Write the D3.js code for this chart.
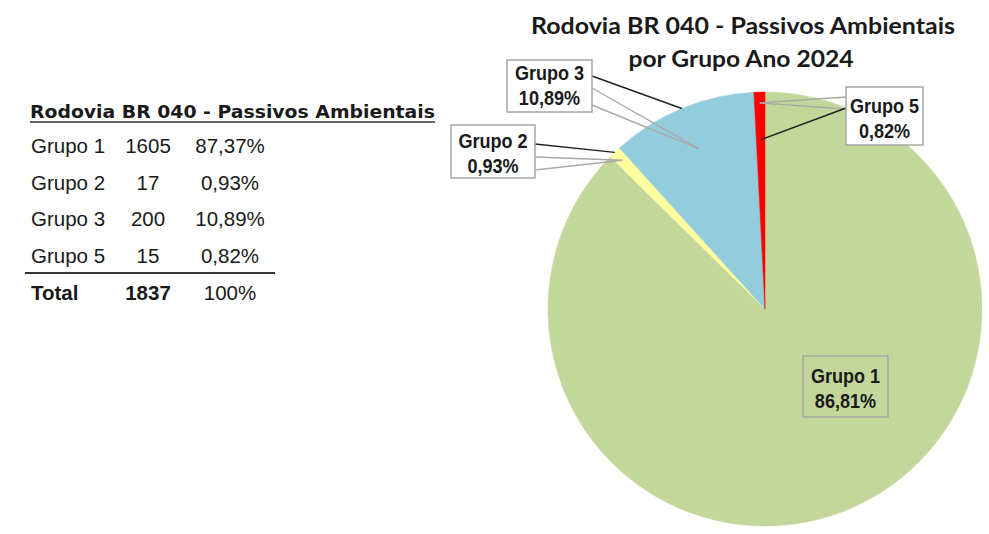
<!DOCTYPE html>
<html>
<head>
<meta charset="utf-8">
<script src="https://cdn.jsdelivr.net/npm/d3@7"></script>
<style>
  html, body { margin: 0; padding: 0; background: #fff; }
  svg { display: block; }
</style>
</head>
<body>
<div id="chart"></div>
<script>
// ─── data ─────────────────────────────────────────────────────────
const grupos       = ["Grupo 1", "Grupo 2", "Grupo 3", "Grupo 5"];
const passivos     = [1605, 17, 200, 15];
const percentuais  = ["87,37%", "0,93%", "10,89%", "0,82%"];
const rotulosPizza = ["86,81%", "0,93%", "10,89%", "0,82%"];   // as printed on the pie
const totalLabel   = ["Total", "1837", "100%"];
const tituloTabela = "Rodovia BR 040 - Passivos Ambientais";
const tituloPizza  = ["Rodovia BR 040 -  Passivos Ambientais", "por Grupo Ano 2024"];

// ─── colour palette ──────────────────────────────────────────────
const cores = ["#c4d79b", "#ffff9f", "#93cddd", "#ff0000"];
const ink   = "#1a1a1a";

const width = 989, height = 534;

const svg = d3.select("#chart")
    .append("svg")
    .attr("width", width)
    .attr("height", height);

svg.append("rect").attr("width", width).attr("height", height).attr("fill", "#fff");

// squeeze / stretch a text to a given width
const fit = (sel, w) => sel.attr("textLength", w).attr("lengthAdjust", "spacingAndGlyphs");
const squeeze = (sel, k) => sel.each(function () {
    const w = this.getComputedTextLength();
    d3.select(this).attr("textLength", w * k).attr("lengthAdjust", "spacingAndGlyphs");
});

// ─── table on the left ───────────────────────────────────────────
const tabela = svg.append("g");

tabela.append("text")
    .attr("x", 30).attr("y", 118)
    .style("font-family", "'DejaVu Sans', sans-serif")
    .style("font-weight", "bold")
    .style("font-size", "18px")
    .attr("fill", ink)
    .text(tituloTabela)
    .call(fit, 405);

tabela.append("line")
    .attr("x1", 30).attr("x2", 435)
    .attr("y1", 122).attr("y2", 122)
    .attr("stroke", "#333").attr("stroke-width", 1.6);

const rowY = d3.scalePoint().domain(grupos).range([153, 263]);
const colX = { nome: 31, qtd: 148, pct: 230 };

const rows = tabela.selectAll("g.row")
    .data(grupos.map((g, i) => ({ g, n: passivos[i], p: percentuais[i] })))
    .join("g")
    .attr("class", "row")
    .attr("transform", d => `translate(0, ${rowY(d.g)})`)
    .style("font-family", "'Liberation Sans', Arial, sans-serif")
    .style("font-size", "20.5px")
    .attr("fill", ink);

rows.append("text").attr("x", colX.nome).text(d => d.g);
rows.append("text").attr("x", colX.qtd).attr("text-anchor", "middle").text(d => d.n);
rows.append("text").attr("x", colX.pct).attr("text-anchor", "middle").text(d => d.p);

tabela.append("line")
    .attr("x1", 25).attr("x2", 275)
    .attr("y1", 273).attr("y2", 273)
    .attr("stroke", "#333").attr("stroke-width", 2);

const totalRow = tabela.append("g")
    .attr("transform", "translate(0, 300)")
    .style("font-family", "'Liberation Sans', Arial, sans-serif")
    .style("font-size", "20.5px")
    .attr("fill", ink);

totalRow.append("text").attr("x", colX.nome).style("font-weight", "bold").text(totalLabel[0]);
totalRow.append("text").attr("x", colX.qtd).attr("text-anchor", "middle").style("font-weight", "bold").text(totalLabel[1]);
totalRow.append("text").attr("x", colX.pct).attr("text-anchor", "middle").text(totalLabel[2]);

// ─── pie title ───────────────────────────────────────────────────
const titulo = svg.append("g")
    .style("font-family", "Lato, Calibri, sans-serif")
    .style("font-weight", "bold")
    .style("font-size", "22.5px")
    .attr("fill", ink);

titulo.append("text").attr("x", 743).attr("y", 34).attr("text-anchor", "middle")
    .text(tituloPizza[0]).call(fit, 424);
titulo.append("text").attr("x", 741).attr("y", 67).attr("text-anchor", "middle")
    .text(tituloPizza[1]).call(fit, 225);

// ─── pie ─────────────────────────────────────────────────────────
const cx = 765, cy = 309, radius = 217;

const pie = d3.pie().value(d => d).sort(null);
const arcs = pie(passivos);

const arc = d3.arc().innerRadius(0).outerRadius(radius);
const arcAt = k => d3.arc().innerRadius(radius * k).outerRadius(radius * k);

const pizza = svg.append("g").attr("transform", `translate(${cx}, ${cy})`);

pizza.selectAll("path")
    .data(arcs)
    .join("path")
    .attr("d", arc)
    .attr("fill", (d, i) => cores[i])
    .attr("stroke", (d, i) => cores[i])
    .attr("stroke-width", 0.5);

// label boxes: position of each box (page coords) and where its leaders start
const caixas = [
    { x: 803, y: 356, w: 85, h: 61, fill: "none", dy: 0 },
    { x: 451, y: 125, w: 84, h: 53, fill: "#fff", dy: 0,
      preto: { y: 144, k: 1.0 }, cinza: [{ y: 157, k: 0.95 }, { y: 170, k: 0.95 }] },
    { x: 507, y: 60, w: 85, h: 52, fill: "#fff", dy: -2,
      preto: { y: 76, k: 1.0 }, cinza: [{ y: 88, k: 0.8 }, { y: 105, k: 0.8 }] },
    { x: 846, y: 87, w: 77, h: 58, fill: "#fff", dy: 1,
      preto: { y: 108, k: 0.78 }, cinza: [{ y: 97, k: 0.95 }, { y: 109, k: 0.95 }] }
];

const leaders = svg.append("g");
arcs.forEach((a, i) => {
    const c = caixas[i];
    if (!c.preto) return;
    const bx = c.x + c.w / 2 < cx ? c.x + c.w : c.x;
    c.cinza.forEach(l => {
        const [px, py] = arcAt(l.k).centroid(a);
        leaders.append("line")
            .attr("x1", bx).attr("y1", l.y)
            .attr("x2", cx + px).attr("y2", cy + py)
            .attr("stroke", "#a9a9a9").attr("stroke-width", 1.4);
    });
    const [px, py] = arcAt(c.preto.k).centroid(a);
    leaders.append("line")
        .attr("x1", bx).attr("y1", c.preto.y)
        .attr("x2", cx + px).attr("y2", cy + py)
        .attr("stroke", "#222").attr("stroke-width", 1.5);
});

const rotulos = svg.selectAll("g.rotulo")
    .data(arcs)
    .join("g")
    .attr("class", "rotulo");

rotulos.append("rect")
    .attr("x", (d, i) => caixas[i].x)
    .attr("y", (d, i) => caixas[i].y)
    .attr("width", (d, i) => caixas[i].w)
    .attr("height", (d, i) => caixas[i].h)
    .attr("fill", (d, i) => caixas[i].fill)
    .attr("stroke", "#a6a6a6")
    .attr("stroke-width", 1.5);

const rotuloTexto = rotulos.append("text")
    .style("font-family", "'Liberation Sans Narrow', 'Liberation Sans', Arial, sans-serif")
    .style("font-weight", "bold")
    .style("font-size", "21px")
    .attr("fill", ink)
    .attr("text-anchor", "middle");

rotuloTexto.append("tspan")
    .attr("x", (d, i) => caixas[i].x + caixas[i].w / 2)
    .attr("y", (d, i) => caixas[i].y + caixas[i].h / 2 - 4 + caixas[i].dy)
    .text((d, i) => grupos[i])
    .call(squeeze, 0.86);

rotuloTexto.append("tspan")
    .attr("x", (d, i) => caixas[i].x + caixas[i].w / 2)
    .attr("y", (d, i) => caixas[i].y + caixas[i].h / 2 + 21 + caixas[i].dy)
    .text((d, i) => rotulosPizza[i])
    .call(squeeze, 0.86);
</script>
</body>
</html>
